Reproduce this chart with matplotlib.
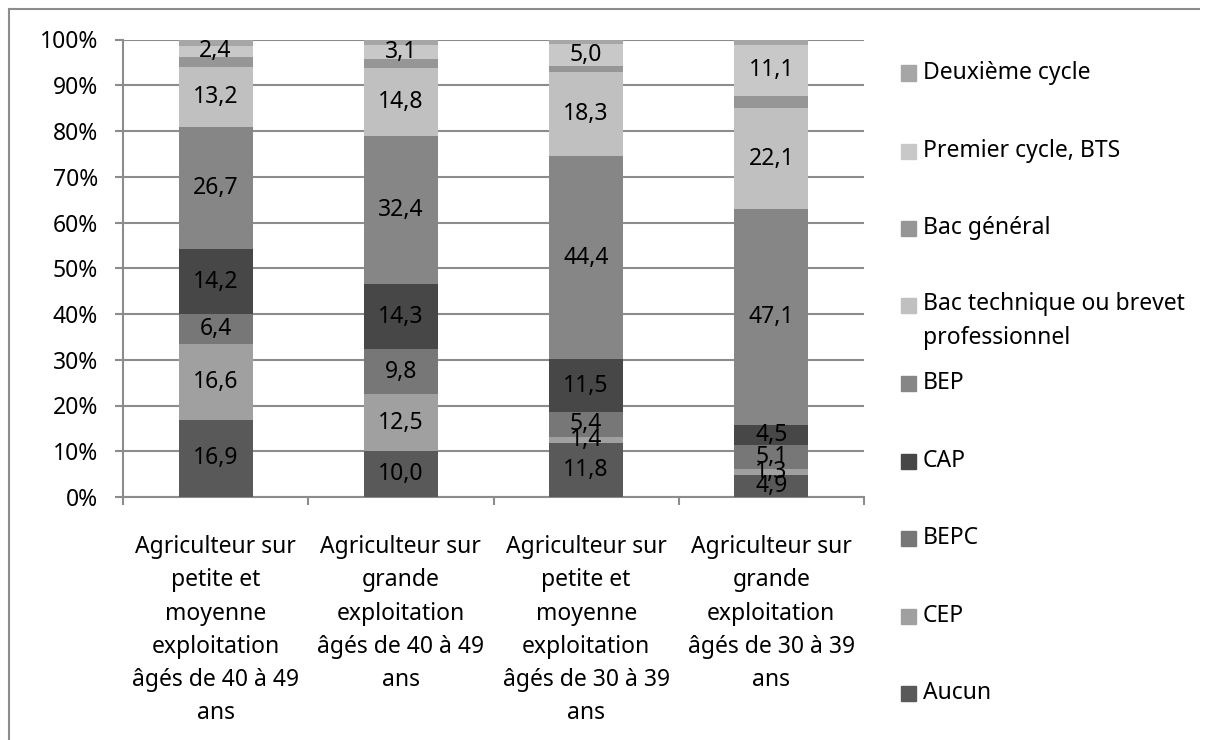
import matplotlib.pyplot as plt
from matplotlib.patches import Rectangle
from matplotlib.lines import Line2D
import numpy as np

plt.rcParams['font.family'] = ['Noto Sans', 'DejaVu Sans']

# categories (x axis)
categories = [
    "Agriculteur sur\npetite et\nmoyenne\nexploitation\nâgés de 40 à 49\nans",
    "Agriculteur sur\ngrande\nexploitation\nâgés de 40 à 49\nans",
    "Agriculteur sur\npetite et\nmoyenne\nexploitation\nâgés de 30 à 39\nans",
    "Agriculteur sur\ngrande\nexploitation\nâgés de 30 à 39\nans",
]

# series, stacked from the bottom
series_names = ["Aucun", "CEP", "BEPC", "CAP", "BEP",
                "Bac technique ou brevet\nprofessionnel", "Bac général",
                "Premier cycle, BTS", "Deuxième cycle"]

aucun = [16.9, 10.0, 11.8, 4.9]
cep = [16.6, 12.5, 1.4, 1.3]
bepc = [6.4, 9.8, 5.4, 5.1]
cap = [14.2, 14.3, 11.5, 4.5]
bep = [26.7, 32.4, 44.4, 47.1]
bac_tech = [13.2, 14.8, 18.3, 22.1]
bac_gen = [2.2, 2.0, 1.3, 2.7]      # not labelled in the original
premier = [2.4, 3.1, 5.0, 11.1]
deuxieme = [1.4, 1.1, 0.9, 1.2]     # not labelled in the original

values = [aucun, cep, bepc, cap, bep, bac_tech, bac_gen, premier, deuxieme]
show_labels = [True, True, True, True, True, True, False, True, False]
colors = ["#595959", "#a0a0a0", "#777777", "#474747", "#868686",
          "#c0c0c0", "#969696", "#c8c8c8", "#a6a6a6"]

FS = 16.5
W, H = 1208, 740
fig = plt.figure(figsize=(W / 100, H / 100), dpi=100)

# outer frame (left and top edges visible in the original)
fig.add_artist(Line2D([9 / W, 9 / W], [0, 1 - 9 / H], color="#8c8c8c", lw=1.5))
fig.add_artist(Line2D([9 / W, 1199 / W], [1 - 9 / H, 1 - 9 / H], color="#8c8c8c", lw=1.5))

ax = fig.add_axes([123 / W, 1 - 497 / H, (864 - 123) / W, (497 - 39.5) / H])

x = np.arange(len(categories))
bottom = np.zeros(len(categories))
for name, vals, col, lab in zip(series_names, values, colors, show_labels):
    bars = ax.bar(x, vals, width=0.4, bottom=bottom, color=col, zorder=3)
    if lab:
        ax.bar_label(bars, labels=[f"{v:.1f}".replace(".", ",") for v in vals],
                     label_type="center", fontsize=FS, zorder=4)
    bottom += np.array(vals)

ax.set_xlim(-0.5, 3.5)
ax.set_ylim(0, 100)
ax.set_yticks(np.arange(0, 101, 10))
ax.set_yticklabels([f"{v}%" for v in range(0, 101, 10)])
ax.yaxis.grid(True, color="#8c8c8c", lw=1.5, zorder=0)
ax.tick_params(axis="y", length=6, width=1.5, color="#8c8c8c", pad=12, labelsize=FS)

ax.set_xticks(x)
ax.set_xticklabels(categories, linespacing=1.51)
ax.set_xticks(np.arange(-0.5, 4, 1), minor=True)
ax.tick_params(axis="x", which="major", length=0, pad=27.5, labelsize=FS)
ax.tick_params(axis="x", which="minor", length=6, width=1.5, color="#8c8c8c")

for s in ["top", "right"]:
    ax.spines[s].set_visible(False)
for s in ["left", "bottom"]:
    ax.spines[s].set_color("#8c8c8c")
    ax.spines[s].set_linewidth(1.5)

# legend, drawn in reverse order like the original
legend_y = [73, 151, 228, 306, 383, 461, 538, 616, 693]
for name, col, yy in zip(series_names[::-1], colors[::-1], legend_y):
    fig.add_artist(Rectangle((901 / W, 1 - (yy + 7.5) / H), 15 / W, 15 / H,
                             color=col, transform=fig.transFigure))
    if "\n" in name:
        fig.text(923 / W, 1 - (yy - 14) / H, name, fontsize=FS,
                 va="top", ha="left", linespacing=1.58)
    else:
        fig.text(923 / W, 1 - yy / H, name, fontsize=FS, va="center", ha="left")

fig.savefig("out.png", dpi=100)
